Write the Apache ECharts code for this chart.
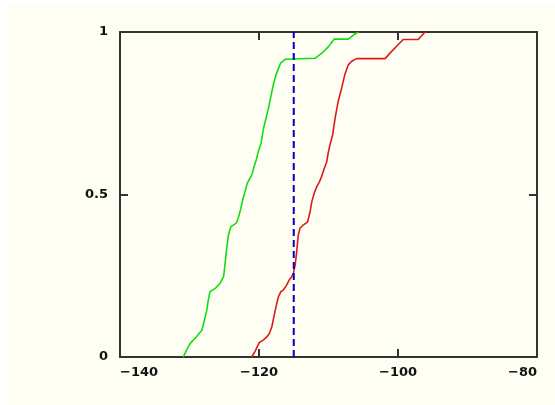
<!DOCTYPE html>
<html>
<head>
<meta charset="utf-8">
<script src="https://cdn.jsdelivr.net/npm/echarts@6/dist/echarts.min.js"></script>
<style>
  html, body { margin: 0; padding: 0; background: #ffffff; }
  #chart { width: 555px; height: 405px; }
</style>
</head>
<body>
<div id="chart"></div>
<script>
// x ticks / y ticks
const xTicks = [-140, -120, -100, -80];
const yTicks = [0, 0.5, 1];
const markerX = -115;

// empirical CDF, green curve
const greenCdf = [
  [-130.9, 0], [-130.4, 0.022], [-129.9, 0.042], [-129.0, 0.062], [-128.2, 0.083],
  [-127.9, 0.109], [-127.5, 0.145], [-127.3, 0.175], [-127.05, 0.201], [-126.3, 0.211],
  [-125.6, 0.227], [-125.1, 0.247], [-124.9, 0.283], [-124.7, 0.325], [-124.4, 0.375],
  [-124.05, 0.401], [-123.3, 0.411], [-123.0, 0.427], [-122.6, 0.458], [-122.35, 0.483],
  [-122.0, 0.509], [-121.7, 0.534], [-121.3, 0.55], [-120.95, 0.565], [-120.7, 0.586],
  [-120.4, 0.606], [-120.1, 0.632], [-119.7, 0.658], [-119.4, 0.698], [-119.0, 0.734],
  [-118.65, 0.765], [-118.3, 0.801], [-117.95, 0.837], [-117.55, 0.868], [-117.2, 0.888],
  [-116.9, 0.904], [-116.25, 0.916], [-116.0, 0.919], [-111.95, 0.919], [-111.0, 0.934],
  [-110.0, 0.955], [-109.2, 0.978], [-107.15, 0.978], [-106.2, 0.994], [-105.7, 1]
];

// empirical CDF, red curve
const redCdf = [
  [-121.05, 0], [-120.6, 0.016], [-120.25, 0.032], [-119.95, 0.044], [-119.4, 0.052],
  [-118.9, 0.061], [-118.5, 0.073], [-118.15, 0.093], [-117.85, 0.124], [-117.55, 0.155],
  [-117.2, 0.186], [-116.85, 0.201], [-116.5, 0.206], [-116.0, 0.222], [-115.65, 0.237],
  [-115.3, 0.247], [-115.05, 0.258], [-114.8, 0.283], [-114.6, 0.319], [-114.35, 0.375],
  [-114.1, 0.396], [-113.65, 0.406], [-113.0, 0.416], [-112.65, 0.447], [-112.4, 0.478],
  [-112.05, 0.504], [-111.7, 0.524], [-111.3, 0.539], [-111.0, 0.555], [-110.6, 0.581],
  [-110.25, 0.601], [-110.05, 0.627], [-109.8, 0.652], [-109.4, 0.684], [-109.05, 0.735],
  [-108.6, 0.787], [-108.1, 0.828], [-107.65, 0.869], [-107.15, 0.899], [-106.65, 0.91],
  [-105.95, 0.918], [-101.85, 0.918], [-101.15, 0.935], [-100.2, 0.956], [-99.25, 0.977],
  [-97.1, 0.977], [-96.1, 1]
];

const axisColor = '#333333';
const labelFont = { color: '#111', fontFamily: 'DejaVu Sans', fontSize: 13, fontWeight: 'bold' };

function xAxisCfg(pos, showLabel) {
  return {
    type: 'value', position: pos,
    min: xTicks[0], max: xTicks[xTicks.length - 1], interval: 20,
    axisLine: { show: true, onZero: false, lineStyle: { color: axisColor, width: 2 } },
    axisTick: { show: true, inside: true, length: 8, lineStyle: { color: axisColor, width: 2 } },
    axisLabel: Object.assign({
      show: showLabel, margin: 9,
      alignMinLabel: 'left', alignMaxLabel: 'right',
      formatter: v => String(v).replace('-', '\u2212')
    }, labelFont),
    splitLine: { show: false }
  };
}

function yAxisCfg(pos, showLabel) {
  return {
    type: 'value', position: pos,
    min: yTicks[0], max: yTicks[yTicks.length - 1], interval: 0.5,
    axisLine: { show: true, onZero: false, lineStyle: { color: axisColor, width: 2 } },
    axisTick: { show: true, inside: true, length: 8, lineStyle: { color: axisColor, width: 2 } },
    axisLabel: Object.assign({ show: showLabel, margin: 12, formatter: v => String(v) }, labelFont),
    splitLine: { show: false }
  };
}

var myChart = echarts.init(document.getElementById('chart'));
myChart.setOption({
  animation: false,
  backgroundColor: '#ffffff',
  graphic: [{
    type: 'rect', z: -10, silent: true,
    shape: { x: 8, y: 5, width: 547, height: 400 },
    style: { fill: '#fefef2' }
  }],
  grid: { left: 120, right: 18, top: 32, bottom: 48, containLabel: false },
  xAxis: [xAxisCfg('bottom', true), xAxisCfg('top', false)],
  yAxis: [yAxisCfg('left', true), yAxisCfg('right', false)],
  series: [
    {
      type: 'line', data: greenCdf, showSymbol: false,
      lineStyle: { color: '#11dd11', width: 1.6 }
    },
    {
      type: 'line', data: redCdf, showSymbol: false,
      lineStyle: { color: '#dd1a1a', width: 1.6 }
    },
    {
      type: 'line', data: [[markerX, 0], [markerX, 1]], showSymbol: false,
      lineStyle: { color: '#0000cc', width: 2, type: [7, 4] }
    }
  ]
});
</script>
</body>
</html>
